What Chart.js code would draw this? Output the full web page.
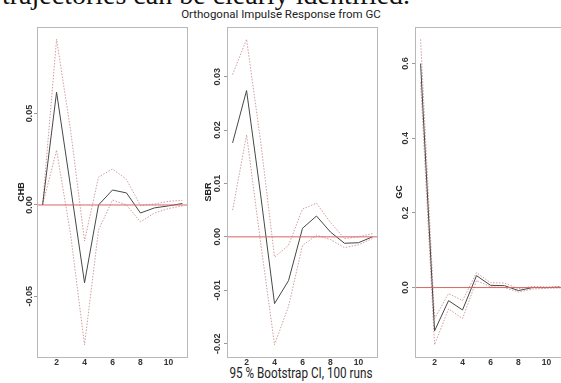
<!DOCTYPE html>
<html>
<head>
<meta charset="utf-8">
<script src="https://cdn.jsdelivr.net/npm/chart.js@4/dist/chart.umd.min.js"></script>
<style>
  html, body { margin: 0; padding: 0; background: #fff; width: 561px; height: 383px; overflow: hidden; position: relative; }
  .panel { position: absolute; }
  #topText { position: absolute; left: 2px; top: -19px; font-family: 'Liberation Serif', 'Times New Roman', serif; font-size: 28px; line-height: 28px; color: #111; white-space: nowrap; }
  #mainTitle { position: absolute; left: 181px; width: 200px; top: 8px; text-align: center; font-family: Roboto, 'Liberation Sans', sans-serif; font-size: 11.5px; line-height: 12px; color: #222; white-space: nowrap; }
  #caption { position: absolute; left: 201px; width: 200px; top: 366px; text-align: center; font-family: Roboto, 'Liberation Sans', sans-serif; font-size: 15px; line-height: 15px; color: #222; white-space: nowrap; transform: scaleX(0.78); transform-origin: 50% 50%; }
</style>
</head>
<body>
<div id="topText">trajectories can be clearly identified.</div>
<div id="mainTitle">Orthogonal Impulse Response from GC</div>
<div id="caption">95 % Bootstrap CI, 100 runs</div>
<div class="panel" id="p1"><canvas id="c1"></canvas></div>
<div class="panel" id="p2"><canvas id="c2"></canvas></div>
<div class="panel" id="p3"><canvas id="c3"></canvas></div>
<script>
// ---------------- DATA ----------------
const STEPS = [1, 2, 3, 4, 5, 6, 7, 8, 9, 10, 11];
const X_TICKS = [2, 4, 6, 8, 10];
const X_MIN = 0.6, X_MAX = 11.4;

const CHB_IRF   = [0, 0.0617, 0.0100, -0.0426, 0.0000, 0.0082, 0.0066, -0.0044, -0.0016, -0.0005, 0.0008];
const CHB_UPPER = [0, 0.0907, 0.0410, -0.0197, 0.0153, 0.0197, 0.0140, -0.0003, 0.0005, 0.0020, 0.0025];
const CHB_LOWER = [0, 0.0300, -0.0160, -0.0765, -0.0137, 0.0027, 0.0000, -0.0093, -0.0044, -0.0020, -0.0005];
const CHB_TICKS = [-0.05, 0, 0.05];
const CHB_TICK_LABELS = ['-0.05', '0.00', '0.05'];

const SBR_IRF   = [0.0176, 0.0274, 0.0080, -0.0125, -0.0082, 0.0016, 0.0039, 0.0009, -0.0012, -0.0011, 0.0000];
const SBR_UPPER = [0.0304, 0.0370, 0.0180, -0.0038, -0.0016, 0.0052, 0.0063, 0.0027, -0.0003, 0.0000, 0.0006];
const SBR_LOWER = [0.0050, 0.0191, -0.0010, -0.0202, -0.0130, -0.0016, 0.0003, -0.0005, -0.0020, -0.0015, -0.0003];
const SBR_TICKS = [-0.02, -0.01, 0, 0.01, 0.02, 0.03];
const SBR_TICK_LABELS = ['-0.02', '-0.01', '0.00', '0.01', '0.02', '0.03'];

const GC_IRF   = [0.600, -0.116, -0.035, -0.060, 0.032, 0.006, 0.005, -0.008, 0.000, 0.000, 0.001];
const GC_UPPER = [0.665, -0.083, -0.016, -0.035, 0.040, 0.013, 0.012, -0.003, 0.003, 0.002, 0.003];
const GC_LOWER = [0.550, -0.153, -0.057, -0.083, 0.019, 0.002, 0.000, -0.012, -0.004, -0.002, -0.001];
const GC_TICKS = [0, 0.2, 0.4, 0.6];
const GC_TICK_LABELS = ['0.0', '0.2', '0.4', '0.6'];

// ---------------- LAYOUT ----------------
const YW = 26;      // y-axis box width
const XH = 18;      // x-axis box height
const PAD_TOP = 10;
const PLOT_TOP = 27;
const PLOT_H = 330;
const PLOT_W = 151;
const TICK_FONT = { family: "'Liberation Sans', Arial, sans-serif", size: 9, weight: 'bold' };
const X_TICK_FONT = { family: "'Liberation Sans', Arial, sans-serif", size: 8.5, weight: 'bold' };
const TITLE_FONT = { family: "'Liberation Sans', Arial, sans-serif", size: 9, weight: 'bold' };

const measureCtx = document.createElement('canvas').getContext('2d');
function widest(labels, font) {
  measureCtx.font = `${font.weight} ${font.size}px ${font.family}`;
  return Math.max(...labels.map(l => measureCtx.measureText(l).width));
}

const boxPlugin = {
  id: 'plotBox',
  afterDatasetsDraw(chart) {
    const { ctx, chartArea: a } = chart;
    ctx.save();
    ctx.setLineDash([]);
    ctx.lineWidth = 1;
    ctx.strokeStyle = '#b8b8b8';
    ctx.strokeRect(Math.round(a.left) + 0.5, Math.round(a.top) + 0.5, Math.round(a.right - a.left) - 1, Math.round(a.bottom - a.top));
    ctx.restore();
  }
};

function makePanel(cfg) {
  const div = document.getElementById(cfg.div);
  div.style.left = (cfg.plotLeft - YW) + 'px';
  div.style.top = (PLOT_TOP - PAD_TOP) + 'px';
  div.style.width = (PLOT_W + YW) + 'px';
  div.style.height = (PAD_TOP + PLOT_H + XH) + 'px';
  const tl = 3;
  const labelPad = cfg.labelOffset - tl - widest(cfg.tickLabels, TICK_FONT) / 2;
  const titlePad = YW - cfg.titleOffset - TITLE_FONT.size * 1.2 / 2;
  const mk = (arr) => STEPS.map((s, i) => ({ x: s, y: arr[i] }));
  const ciStyle = { borderColor: 'rgba(205,145,145,0.9)', borderWidth: 1, borderDash: [1.5, 1.5], pointRadius: 0, tension: 0, fill: false, order: 2 };
  new Chart(document.getElementById(cfg.canvas), {
    type: 'line',
    data: {
      datasets: [
        Object.assign({ label: 'upper', data: mk(cfg.upper) }, ciStyle),
        Object.assign({ label: 'lower', data: mk(cfg.lower) }, ciStyle),
        { label: cfg.name, data: mk(cfg.irf), borderColor: '#474747', borderWidth: 1, pointRadius: 0, tension: 0, fill: false, order: 1 },
        { label: 'zero', data: [{ x: X_MIN, y: 0 }, { x: X_MAX, y: 0 }], borderColor: 'rgb(218,100,100)', borderWidth: 1, pointRadius: 0, fill: false, order: 0 }
      ]
    },
    options: {
      responsive: true,
      maintainAspectRatio: false,
      animation: false,
      events: [],
      layout: { padding: { top: PAD_TOP, left: 0, right: 0, bottom: 0 } },
      plugins: { legend: { display: false }, tooltip: { enabled: false }, title: { display: false } },
      scales: {
        x: {
          type: 'linear',
          min: X_MIN,
          max: X_MAX,
          afterBuildTicks: (s) => { s.ticks = X_TICKS.map(v => ({ value: v })); },
          afterFit: (s) => { s.height = XH; },
          grid: { display: false, drawTicks: false },
          border: { display: false },
          ticks: { font: X_TICK_FONT, color: '#333', padding: 1, maxRotation: 0, autoSkip: false, callback: (v) => String(v) }
        },
        y: {
          type: 'linear',
          min: cfg.yMin,
          max: cfg.yMax,
          afterBuildTicks: (s) => { s.ticks = cfg.ticks.map(v => ({ value: v })); },
          afterFit: (s) => { s.width = YW; },
          grid: { display: true, drawOnChartArea: false, drawTicks: true, tickLength: tl, tickColor: '#999', color: '#999' },
          border: { display: false },
          title: { display: true, text: cfg.name, font: TITLE_FONT, color: '#222', padding: { top: titlePad, bottom: 0 } },
          ticks: {
            font: TICK_FONT, color: '#333', minRotation: 90, maxRotation: 90, crossAlign: 'center', padding: labelPad, autoSkip: false,
            callback: (v) => { const i = cfg.ticks.findIndex(t => Math.abs(t - v) < 1e-9); return i >= 0 ? cfg.tickLabels[i] : ''; }
          }
        }
      }
    },
    plugins: [boxPlugin]
  });
}

makePanel({ div: 'p1', canvas: 'c1', name: 'CHB', plotLeft: 37, yMin: -0.0832, yMax: 0.0974,
  irf: CHB_IRF, upper: CHB_UPPER, lower: CHB_LOWER, ticks: CHB_TICKS, tickLabels: CHB_TICK_LABELS, labelOffset: 7.5, titleOffset: 15 });
makePanel({ div: 'p2', canvas: 'c2', name: 'SBR', plotLeft: 227, yMin: -0.0225, yMax: 0.0393,
  irf: SBR_IRF, upper: SBR_UPPER, lower: SBR_LOWER, ticks: SBR_TICKS, tickLabels: SBR_TICK_LABELS, labelOffset: 9, titleOffset: 18 });
makePanel({ div: 'p3', canvas: 'c3', name: 'GC', plotLeft: 415, yMin: -0.186, yMax: 0.698,
  irf: GC_IRF, upper: GC_UPPER, lower: GC_LOWER, ticks: GC_TICKS, tickLabels: GC_TICK_LABELS, labelOffset: 9, titleOffset: 15 });
</script>
</body>
</html>
